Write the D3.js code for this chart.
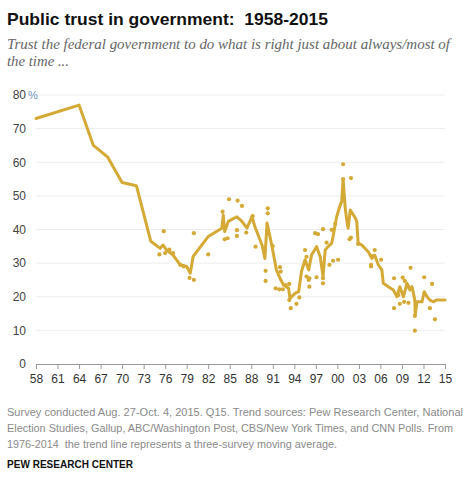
<!DOCTYPE html>
<html><head><meta charset="utf-8">
<script src="https://cdn.jsdelivr.net/npm/d3@7"></script>
<style>
body{margin:0;background:#fff;}
svg{display:block;}
</style></head>
<body>
<svg id="chart" width="474" height="479"></svg>
<script>
// ---- Data ----
const title = "Public trust in government:  1958-2015";
const subtitleLines = ["Trust the federal government to do what is right just about always/most of", "the time ..."];
const yTicks = [0,10,20,30,40,50,60,70,80];
const xTickYears = [1958,1961,1964,1967,1970,1973,1976,1979,1982,1985,1988,1991,1994,1997,2000,2003,2006,2009,2012,2015];
const xTickLabels = ["58","61","64","67","70","73","76","79","82","85","88","91","94","97","00","03","06","09","12","15"];

// trend line (sparse surveys 1958-1974, then three-survey moving average)
const lineYears = [1958,1964,1966,1968,1970,1972,1974,1975.3,1975.7,1976.2,1977.1,1978.1,1979.0,1979.5,1979.9,1982,1983.9,1984.1,1984.3,1984.8,1986,1986.7,1987.4,1988.1,1988.5,1989.5,1989.9,1990.2,1990.9,1991.5,1992,1992.5,1993.2,1993.4,1994.1,1994.6,1995,1995.5,1996,1996.4,1997.1,1997.6,1998,1998.3,1998.7,1999.2,1999.4,1999.9,2000.4,2000.6,2000.8,2001.1,2001.3,2001.5,2001.8,2002.5,2002.7,2002.9,2003.4,2004.3,2004.8,2005.2,2005.7,2006.2,2006.4,2007.1,2007.8,2008.3,2008.7,2009.2,2009.7,2010.1,2010.4,2010.8,2010.85,2011.1,2011.8,2012.1,2012.5,2012.9,2013.4,2013.8,2015];
const lineValues = [73,77,65,61.5,54,53,36.5,34.4,35.4,33.9,32.4,29.5,29,27,32,37.9,40.4,44.3,39.4,42.4,43.8,42.4,40.4,43.8,40.9,35.4,31.4,41.9,34.9,28,25.5,23.5,22.5,19.5,21,21.5,27.5,31,28,32.4,34.9,32,26,33.9,34.9,35.9,37.9,43.8,47.3,48.3,54.8,46.3,42.9,40.4,45.8,43.4,42.4,35.9,35.4,33.4,31.4,32.4,29.5,28,24,23,22,20,23,20,24,22,23,19,14.6,18.5,18.5,21.5,20,19,18.5,19,19];

// individual survey results
const dotYears = [1975.2,1975.8,1976.0,1976.6,1977.1,1978.1,1978.6,1979.4,1980.0,1980.0,1982.0,1984.0,1984.3,1984.7,1984.9,1986.0,1986.0,1986.1,1986.7,1987.3,1988.2,1988.6,1990.0,1990.0,1990.3,1990.3,1991.0,1991.4,1991.9,1992.0,1992.1,1992.4,1992.8,1993.3,1993.3,1993.5,1994.3,1994.7,1995.5,1995.7,1995.7,1996.0,1996.1,1996.1,1996.9,1997.1,1997.3,1998.0,1998.0,1998.0,1998.5,1998.9,1999.2,1999.4,1999.7,2000.1,2000.8,2000.8,2001.7,2001.9,2001.9,2002.9,2004.7,2004.7,2004.8,2005.2,2006.1,2007.9,2007.9,2008.5,2008.7,2009.1,2009.3,2009.4,2009.7,2009.9,2009.9,2010.2,2010.8,2010.8,2012.1,2012.9,2013.2,2013.6];
const dotValues = [32.6,39.5,33,34,33,29.5,29,25.6,25,38.9,32.6,45.3,37.1,37.4,49,39.8,38.1,48.6,47,39.1,44,34.9,27.7,24.7,46.3,44.8,35.1,22.5,22.2,28.8,27.5,22.2,23.5,23.8,19,16.6,17.9,19.8,33.9,31.9,26,25,23,25.5,38.9,25.8,38.6,40.1,24,25.5,36.1,29.5,39.9,30.7,41.7,31,59.4,55,37.1,37.6,55.3,35.7,29.5,29,32.1,33.9,31,25.5,16.6,20.5,17.9,25.7,18.5,24.7,23.5,23,18.2,28.6,14.3,9.9,25.8,16.6,23.8,13.3];

const footLines = ["Survey conducted Aug. 27-Oct. 4, 2015. Q15. Trend sources: Pew Research Center, National",
  "Election Studies, Gallup, ABC/Washington Post, CBS/New York Times, and CNN Polls. From",
  "1976-2014  the trend line represents a three-survey moving average."];
const sourceText = "PEW RESEARCH CENTER";

// ---- Drawing ----
const gold = "#D4A935";
const svg = d3.select("#chart");
const x = d3.scaleLinear().domain([1958, 2015]).range([36, 445]);
const y = d3.scaleLinear().domain([0, 80]).range([364, 95]);

svg.append("text").attr("x", 7).attr("y", 25)
  .attr("font-family", "'Liberation Sans', Arial, sans-serif").attr("font-weight", "bold")
  .attr("font-size", 17).attr("fill", "#111")
  .attr("textLength", 321).attr("lengthAdjust", "spacingAndGlyphs")
  .style("white-space", "pre").text(title);

const subW = [443, 62];
subtitleLines.forEach((t, i) => {
  svg.append("text").attr("x", 7).attr("y", 49 + i * 17)
    .attr("font-family", "'Liberation Serif', 'DejaVu Serif', serif").attr("font-style", "italic")
    .attr("font-size", 14).attr("fill", "#666")
    .attr("textLength", subW[i]).attr("lengthAdjust", "spacingAndGlyphs")
    .text(t);
});

// gridlines
svg.append("g").selectAll("line").data(yTicks.filter(d => d > 0)).join("line")
  .attr("x1", 36).attr("x2", 445)
  .attr("y1", d => y(d)).attr("y2", d => y(d))
  .attr("stroke", "#ededed").attr("stroke-width", 1);

// y labels
const yl = svg.append("g").attr("font-family", "'Liberation Sans', Arial, sans-serif")
  .attr("font-size", 12).attr("fill", "#444");
yl.selectAll("text").data(yTicks).join("text")
  .attr("x", 26).attr("y", d => y(d)).attr("dy", "0.36em").attr("text-anchor", "end")
  .text(d => d);
yl.append("text").attr("x", 28).attr("y", y(80)).attr("dy", "0.36em")
  .attr("fill", "#6b8fc0").attr("font-size", 11).text("%");

// x axis
const xAxis = d3.axisBottom(x).tickValues(xTickYears)
  .tickFormat((d, i) => xTickLabels[i]).tickSize(5).tickPadding(5).tickSizeOuter(0);
const gx = svg.append("g").attr("transform", "translate(0,364)").call(xAxis);
gx.select(".domain").attr("stroke", "#9a9a9a");
gx.selectAll(".tick line").attr("stroke", "#9a9a9a");
gx.selectAll(".tick text").attr("fill", "#333").attr("font-size", 12)
  .attr("font-family", "'Liberation Sans', Arial, sans-serif");

// dots
svg.append("g").selectAll("circle").data(dotYears.map((yr, i) => [yr, dotValues[i]])).join("circle")
  .attr("cx", d => x(d[0])).attr("cy", d => y(d[1])).attr("r", 2.1).attr("fill", gold);

// trend line
const lineData = lineYears.map((yr, i) => [yr, lineValues[i]]);
svg.append("path").datum(lineData)
  .attr("d", d3.line().x(d => x(d[0])).y(d => y(d[1])))
  .attr("fill", "none").attr("stroke", gold).attr("stroke-width", 3)
  .attr("stroke-linejoin", "round").attr("stroke-linecap", "round");

// footnote
const footW = [456, 446, 330];
footLines.forEach((t, i) => {
  svg.append("text").attr("x", 7).attr("y", 416 + i * 16)
    .attr("font-family", "'Liberation Sans', Arial, sans-serif")
    .attr("font-size", 10.3).attr("fill", "#8a8a8a")
    .attr("textLength", footW[i]).attr("lengthAdjust", "spacingAndGlyphs")
    .style("white-space", "pre").text(t);
});
svg.append("text").attr("x", 7).attr("y", 468)
  .attr("font-family", "'Liberation Sans', Arial, sans-serif").attr("font-weight", "bold")
  .attr("font-size", 10).attr("fill", "#111")
  .attr("textLength", 126).attr("lengthAdjust", "spacingAndGlyphs")
  .text(sourceText);
</script>
</body></html>
